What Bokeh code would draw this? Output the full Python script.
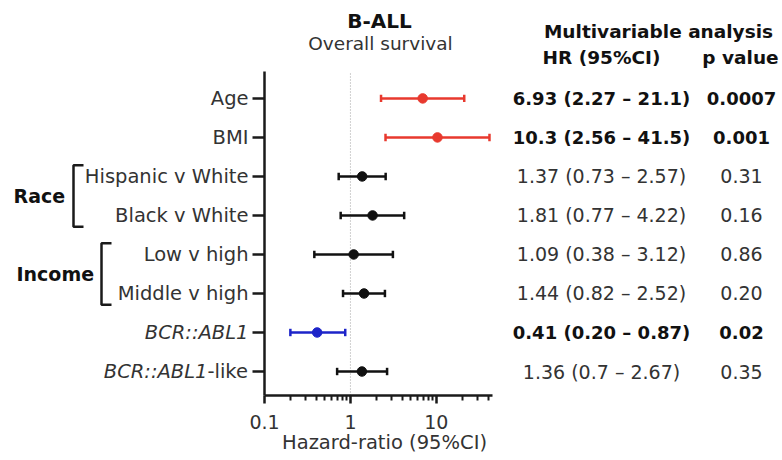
import math
from bokeh.plotting import figure
from bokeh.models import ColumnDataSource, FixedTicker
from bokeh.core.properties import value
from bokeh.embed import file_html
from bokeh.resources import INLINE

# ---------------- data ----------------
row_labels = ["Age", "BMI", "Hispanic v White", "Black v White",
              "Low v high", "Middle v high", "BCR::ABL1", "BCR::ABL1-like"]
italic_part = ["", "", "", "", "", "", "BCR::ABL1", "BCR::ABL1"]
hr = [6.93, 10.3, 1.37, 1.81, 1.09, 1.44, 0.41, 1.36]
ci_low = [2.27, 2.56, 0.73, 0.77, 0.38, 0.82, 0.20, 0.7]
ci_high = [21.1, 41.5, 2.57, 4.22, 3.12, 2.52, 0.87, 2.67]
hr_text = ["6.93 (2.27 \u2013 21.1)", "10.3 (2.56 \u2013 41.5)", "1.37 (0.73 \u2013 2.57)",
           "1.81 (0.77 \u2013 4.22)", "1.09 (0.38 \u2013 3.12)", "1.44 (0.82 \u2013 2.52)",
           "0.41 (0.20 \u2013 0.87)", "1.36 (0.7 \u2013 2.67)"]
p_text = ["0.0007", "0.001", "0.31", "0.16", "0.86", "0.20", "0.02", "0.35"]
significant = [True, True, False, False, False, False, True, False]
groups = ["Race", "Income"]
group_rows = [[2, 3], [4, 5]]
x_ticks = [0.1, 1, 10]
x_tick_labels = ["0.1", "1", "10"]
x_minor_ticks = [0.2, 0.3, 0.4, 0.5, 0.6, 0.7, 0.8, 0.9,
                 2, 3, 4, 5, 6, 7, 8, 9, 20, 30, 40]
title = "B-ALL"
subtitle = "Overall survival"
table_title = "Multivariable analysis"
col_headers = ["HR (95%CI)", "p value"]
x_title = "Hazard-ratio (95%CI)"

# ---------------- layout (pixels) ----------------
W, H = 782, 460
AX_L, AX_R, AX_T, AX_B = 264, 492, 71, 395   # plotting area inside the canvas
X0, X1 = 0.1, 45
n = len(row_labels)
Y0, Y1 = 0.385, n + 0.69
DEC = (AX_R - AX_L) / math.log10(X1 / X0)
UNIT = (AX_B - AX_T) / (Y1 - Y0)


def xd(px):
    return 10 ** (math.log10(X0) + (px - AX_L) / DEC)


def yd(py):
    return Y1 - (py - AX_T) / UNIT


RED, BLUE, BLACK = "#e8392e", "#1d24c9", "#111111"
AXC = "#1a1a1a"
GREY_TXT = "#333333"
FONT = "DejaVu Sans"

ys = [n - i for i in range(n)]
colors = [(RED if h > 1 else BLUE) if s else BLACK for h, s in zip(hr, significant)]
cap = 0.095

src = ColumnDataSource(dict(
    y=ys, hr=hr, lo=ci_low, hi=ci_high, color=colors,
    yb=[y - cap for y in ys], yt=[y + cap for y in ys]))

p = figure(width=W, height=H, x_axis_type="log",
           x_range=(xd(0), xd(W)), y_range=(yd(H), yd(0)),
           output_backend="svg", toolbar_location=None, min_border=0)
p.outline_line_color = None
p.grid.visible = False
p.background_fill_color = "white"
p.border_fill_color = "white"

# reference line at HR = 1
p.segment(x0=[1], y0=[Y0], x1=[1], y1=[Y1], line_color="#a0a0a0",
          line_dash="1 2", line_width=1)

p.segment("lo", "y", "hi", "y", source=src, line_color="color", line_width=2.5)
p.segment("lo", "yb", "lo", "yt", source=src, line_color="color", line_width=2.5)
p.segment("hi", "yb", "hi", "yt", source=src, line_color="color", line_width=2.5)
p.scatter("hr", "y", source=src, size=9.5, color="color")

# axes placed at the plotting area edges
xa = p.xaxis[0]
xa.fixed_location = Y0
xa.bounds = (X0, X1)
xa.ticker = FixedTicker(ticks=x_ticks, minor_ticks=x_minor_ticks)
xa.major_label_overrides = dict(zip(x_ticks, x_tick_labels))
xa.axis_line_width = 2.5
xa.axis_line_color = AXC
xa.major_tick_line_width = 2.5
xa.major_tick_line_color = AXC
xa.minor_tick_line_width = 2
xa.minor_tick_line_color = AXC
xa.major_tick_out = 8
xa.major_tick_in = 0
xa.minor_tick_out = 5
xa.minor_tick_in = 0
xa.major_label_text_font = FONT
xa.major_label_text_font_size = "19px"
xa.major_label_text_color = GREY_TXT
xa.major_label_standoff = 11

ya = p.yaxis[0]
ya.fixed_location = X0
ya.bounds = (Y0, Y1)
ya.ticker = FixedTicker(ticks=ys)
ya.major_label_overrides = {y: "" for y in ys}
ya.minor_tick_line_color = None
ya.axis_line_width = 2.5
ya.axis_line_color = AXC
ya.major_tick_line_width = 2.5
ya.major_tick_line_color = AXC
ya.major_tick_out = 12
ya.major_tick_in = 0


def txt(texts, xs, ys_, size, style="normal", color=GREY_TXT, align="center",
        baseline="middle"):
    p.text(x=xs, y=ys_, text=texts, text_font=value(FONT), text_font_size=value(size),
           text_font_style=style, text_color=color, text_align=align,
           text_baseline=baseline)


# titles and headers
txt([title], [xd(379)], [yd(20)], "20px", "bold", BLACK)
txt([subtitle], [xd(380)], [yd(43)], "18.5px")
txt([table_title], [xd(658)], [yd(31)], "18.5px", "bold", BLACK)
txt(col_headers, [xd(601), xd(740)], [yd(57), yd(57)], "18.5px", "bold", BLACK)
txt([x_title], [xd(384)], [yd(442)], "19.5px")

# row labels
LABEL_RIGHT = 248
SUFFIX_W = 41
for y, name, it in zip(ys, row_labels, italic_part):
    if it == "":
        txt([name], [xd(LABEL_RIGHT)], [y], "19.5px", align="right")
    elif it == name:
        txt([name], [xd(LABEL_RIGHT)], [y], "19.5px", "italic", align="right")
    else:
        txt([it], [xd(LABEL_RIGHT - SUFFIX_W)], [y], "19.5px", "italic", align="right")
        txt([name[len(it):]], [xd(LABEL_RIGHT - SUFFIX_W)], [y], "19.5px", align="left")

# table values
for y, t, pv, s in zip(ys, hr_text, p_text, significant):
    if s:
        txt([t, pv], [xd(601), xd(741)], [y, y], "18px", "bold", BLACK)
    else:
        txt([t, pv], [xd(601), xd(741)], [y, y], "19px")

# group labels and brackets
group_left = [13, 16]
bracket_x = [73, 101]
arm = 10
half = 0.79
bxs, bys = [], []
for g, idx, gl, bx in zip(groups, group_rows, group_left, bracket_x):
    yc = (ys[idx[0]] + ys[idx[1]]) / 2
    txt([g], [xd(gl)], [yc], "19px", "bold", BLACK, align="left")
    top, bot = yc + half, yc - half
    bxs.append([xd(bx + arm), xd(bx), xd(bx), xd(bx + arm)])
    bys.append([top, top, bot, bot])
p.multi_line(bxs, bys, line_color=AXC, line_width=2.5)

open("out.html", "w").write(file_html(p, INLINE))
